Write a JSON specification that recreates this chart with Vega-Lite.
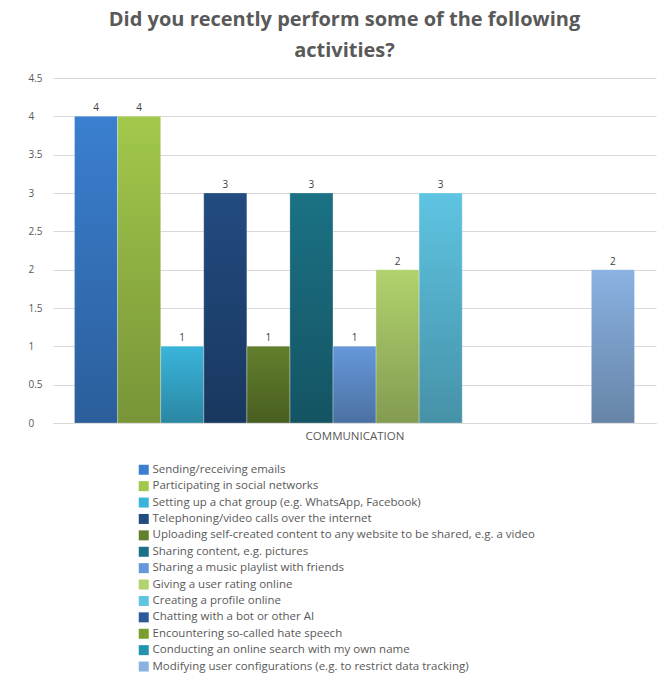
{
  "$schema": "https://vega.github.io/schema/vega-lite/v6.json",
  "autosize": {"type": "none"},
  "padding": {"left": 53, "top": 78, "right": 3, "bottom": 259},
  "width": 603,
  "height": 345,
  "background": "white",
  "title": {
    "text": ["Did you recently perform some of the following", "activities?"],
    "font": "Open Sans",
    "fontSize": 20,
    "fontWeight": "bold",
    "color": "#595959",
    "lineHeight": 31,
    "anchor": "middle",
    "offset": 12,
    "dx": -10
  },
  "data": {
    "values": [
      {"category": "COMMUNICATION", "activity": "Sending/receiving emails", "value": 4},
      {"category": "COMMUNICATION", "activity": "Participating in social networks", "value": 4},
      {"category": "COMMUNICATION", "activity": "Setting up a chat group (e.g. WhatsApp, Facebook)", "value": 1},
      {"category": "COMMUNICATION", "activity": "Telephoning/video calls over the internet", "value": 3},
      {"category": "COMMUNICATION", "activity": "Uploading self-created content to any website to be shared, e.g. a video", "value": 1},
      {"category": "COMMUNICATION", "activity": "Sharing content, e.g. pictures", "value": 3},
      {"category": "COMMUNICATION", "activity": "Sharing a music playlist with friends", "value": 1},
      {"category": "COMMUNICATION", "activity": "Giving a user rating online", "value": 2},
      {"category": "COMMUNICATION", "activity": "Creating a profile online", "value": 3},
      {"category": "COMMUNICATION", "activity": "Chatting with a bot or other AI", "value": null},
      {"category": "COMMUNICATION", "activity": "Encountering so-called hate speech", "value": null},
      {"category": "COMMUNICATION", "activity": "Conducting an online search with my own name", "value": null},
      {"category": "COMMUNICATION", "activity": "Modifying user configurations (e.g. to restrict data tracking)", "value": 2}
    ]
  },
  "encoding": {
    "x": {
      "field": "activity",
      "type": "nominal",
      "scale": {
        "domain": [
          "Sending/receiving emails",
          "Participating in social networks",
          "Setting up a chat group (e.g. WhatsApp, Facebook)",
          "Telephoning/video calls over the internet",
          "Uploading self-created content to any website to be shared, e.g. a video",
          "Sharing content, e.g. pictures",
          "Sharing a music playlist with friends",
          "Giving a user rating online",
          "Creating a profile online",
          "Chatting with a bot or other AI",
          "Encountering so-called hate speech",
          "Conducting an online search with my own name",
          "Modifying user configurations (e.g. to restrict data tracking)"
        ],
        "paddingInner": 0,
        "paddingOuter": 0.5
      },
      "axis": {
        "title": "COMMUNICATION",
        "titleFont": "Open Sans",
        "titleFontSize": 11.5,
        "titleFontWeight": "normal",
        "titleColor": "#595959",
        "titlePadding": 7,
        "labels": false,
        "ticks": false,
        "domain": true,
        "domainColor": "#d9d9d9",
        "domainWidth": 1
      }
    },
    "y": {
      "field": "value",
      "type": "quantitative",
      "scale": {"domain": [0, 4.5], "nice": false},
      "axis": {
        "title": null,
        "values": [0, 0.5, 1, 1.5, 2, 2.5, 3, 3.5, 4, 4.5],
        "format": "~g",
        "labelAlign": "left",
        "labelPadding": 25,
        "labelFont": "Open Sans",
        "labelFontSize": 10,
        "labelColor": "#595959",
        "ticks": false,
        "domain": false,
        "grid": true,
        "gridColor": "#d9d9d9",
        "gridWidth": 1
      }
    }
  },
  "layer": [
    {
      "mark": {"type": "bar"},
      "encoding": {
        "color": {
          "field": "activity",
          "type": "nominal",
          "scale": {
            "domain": [
              "Sending/receiving emails",
              "Participating in social networks",
              "Setting up a chat group (e.g. WhatsApp, Facebook)",
              "Telephoning/video calls over the internet",
              "Uploading self-created content to any website to be shared, e.g. a video",
              "Sharing content, e.g. pictures",
              "Sharing a music playlist with friends",
              "Giving a user rating online",
              "Creating a profile online",
              "Chatting with a bot or other AI",
              "Encountering so-called hate speech",
              "Conducting an online search with my own name",
              "Modifying user configurations (e.g. to restrict data tracking)"
            ],
            "range": ["#3a7fd0", "#a2c84b", "#39b5db", "#224b80", "#627f2c", "#1b7185", "#6598da", "#b1d26d", "#5ec4e2", "#2a5a9a", "#7a9f2e", "#2394ad", "#8ab2e2"]
          },
          "legend": {
            "title": null,
            "orient": "none",
            "legendX": 85,
            "legendY": 386,
            "symbolType": "square",
            "symbolSize": 100,
            "symbolStrokeWidth": 0,
            "symbolOpacity": 1,
            "labelFont": "Open Sans",
            "labelFontSize": 11.5,
            "labelColor": "#595959",
            "labelOffset": 3,
            "labelLimit": 500,
            "rowPadding": 3.4
          }
        }
      }
    },
    {
      "mark": {
        "type": "bar",
        "stroke": "#ffffff",
        "strokeOpacity": 0.3,
        "strokeWidth": 0.8,
        "fill": {"gradient": "linear", "x1": 0, "y1": 0, "x2": 0, "y2": 1, "stops": [{"offset": 0, "color": "rgba(0,0,0,0)"}, {"offset": 1, "color": "rgba(0,0,0,0.26)"}]}
      },
      "encoding": {}
    },
    {
      "mark": {"type": "text", "baseline": "bottom", "dy": -3, "font": "Open Sans", "fontSize": 10, "color": "#404040"},
      "encoding": {
        "text": {"field": "value", "type": "quantitative"}
      }
    }
  ],
  "config": {"view": {"stroke": null}}
}
